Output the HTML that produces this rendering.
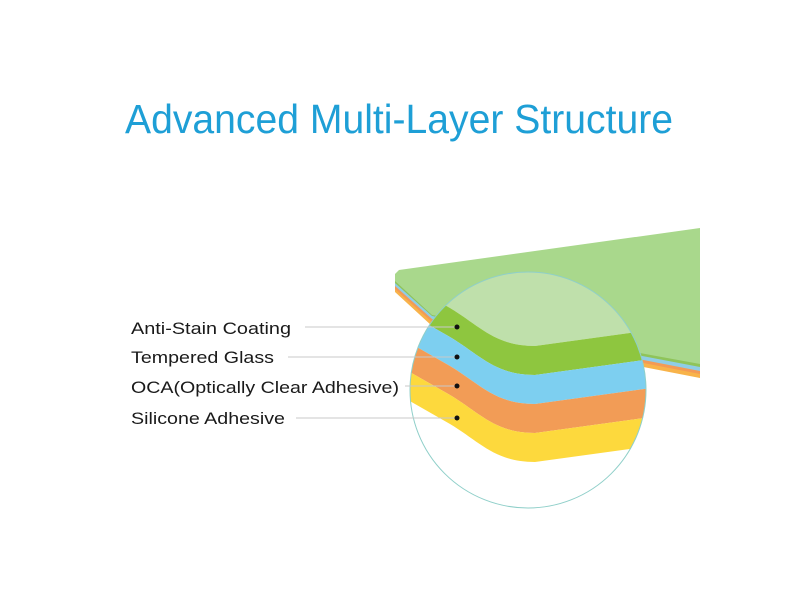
<!DOCTYPE html>
<html><head><meta charset="utf-8"><style>html,body{margin:0;padding:0;background:#fff}svg{display:block}</style></head>
<body>
<svg width="800" height="600" viewBox="0 0 800 600" xmlns="http://www.w3.org/2000/svg">
<defs><clipPath id="c"><circle cx="528" cy="390" r="118"/></clipPath></defs>
<text x="125" y="133" font-family="Liberation Sans, sans-serif" font-size="41" fill="#1e9fd6" textLength="548" lengthAdjust="spacingAndGlyphs">Advanced Multi-Layer Structure</text>
<!-- plate edges -->
<path d="M395,280 L395,292 L432,326 L700,378 L700,368 Z" fill="#f8b34a"/>
<path d="M395,278 L395,289 L432,322 L700,374 L700,366 Z" fill="#f39a55"/>
<path d="M395,276 L395,286 L432,319 L700,371 L700,364 Z" fill="#8fcde6"/>
<path d="M395,274 L395,283 L432,316 L700,367 L700,362 Z" fill="#8fc45a"/>
<path d="M399,270 L700,228 L700,364 L432,315 L395,281 L395,274 Z" fill="#a9d88c"/>
<!-- circle content -->
<g clip-path="url(#c)">
<rect x="400" y="260" width="260" height="260" fill="#fff"/>
<path d="M380,268 L450,308 C480,326 495,346 535,346 L680,326 L680,250 L380,250 Z" fill="#bfe0ab"/>
<path d="M380,268 L450,308 C480,326 495,346 535,346 L680,326 L680,355 L535,375 C495,375 480,355 450,337 L380,297 Z" fill="#8ec63f"/>
<path d="M380,297 L450,337 C480,355 495,375 535,375 L680,355 L680,384 L535,404 C495,404 480,384 450,366 L380,326 Z" fill="#7dcff0"/>
<path d="M380,326 L450,366 C480,384 495,404 535,404 L680,384 L680,413 L535,433 C495,433 480,413 450,395 L380,355 Z" fill="#f29c56"/>
<path d="M380,355 L450,395 C480,413 495,433 535,433 L680,413 L680,442 L535,462 C495,462 480,442 450,424 L380,384 Z" fill="#fdd93d"/>
</g>
<circle cx="528" cy="390" r="118" fill="none" stroke="#8fcfc9" stroke-width="1"/>
<!-- leader lines -->
<g stroke="#c8c8c8" stroke-width="1">
<line x1="305" y1="327" x2="457" y2="327"/>
<line x1="288" y1="357" x2="457" y2="357"/>
<line x1="405" y1="386" x2="457" y2="386"/>
<line x1="296" y1="418" x2="457" y2="418"/>
</g>
<g fill="#111">
<circle cx="457" cy="327" r="2.5"/><circle cx="457" cy="357" r="2.5"/>
<circle cx="457" cy="386" r="2.5"/><circle cx="457" cy="418" r="2.5"/>
</g>
<g font-family="Liberation Sans, sans-serif" font-size="17" fill="#1a1a1a">
<text x="131" y="334" textLength="160" lengthAdjust="spacingAndGlyphs">Anti-Stain Coating</text>
<text x="131" y="363" textLength="143" lengthAdjust="spacingAndGlyphs">Tempered Glass</text>
<text x="131" y="393" textLength="268" lengthAdjust="spacingAndGlyphs">OCA(Optically Clear Adhesive)</text>
<text x="131" y="424" textLength="154" lengthAdjust="spacingAndGlyphs">Silicone Adhesive</text>
</g>
</svg>
</body></html>
